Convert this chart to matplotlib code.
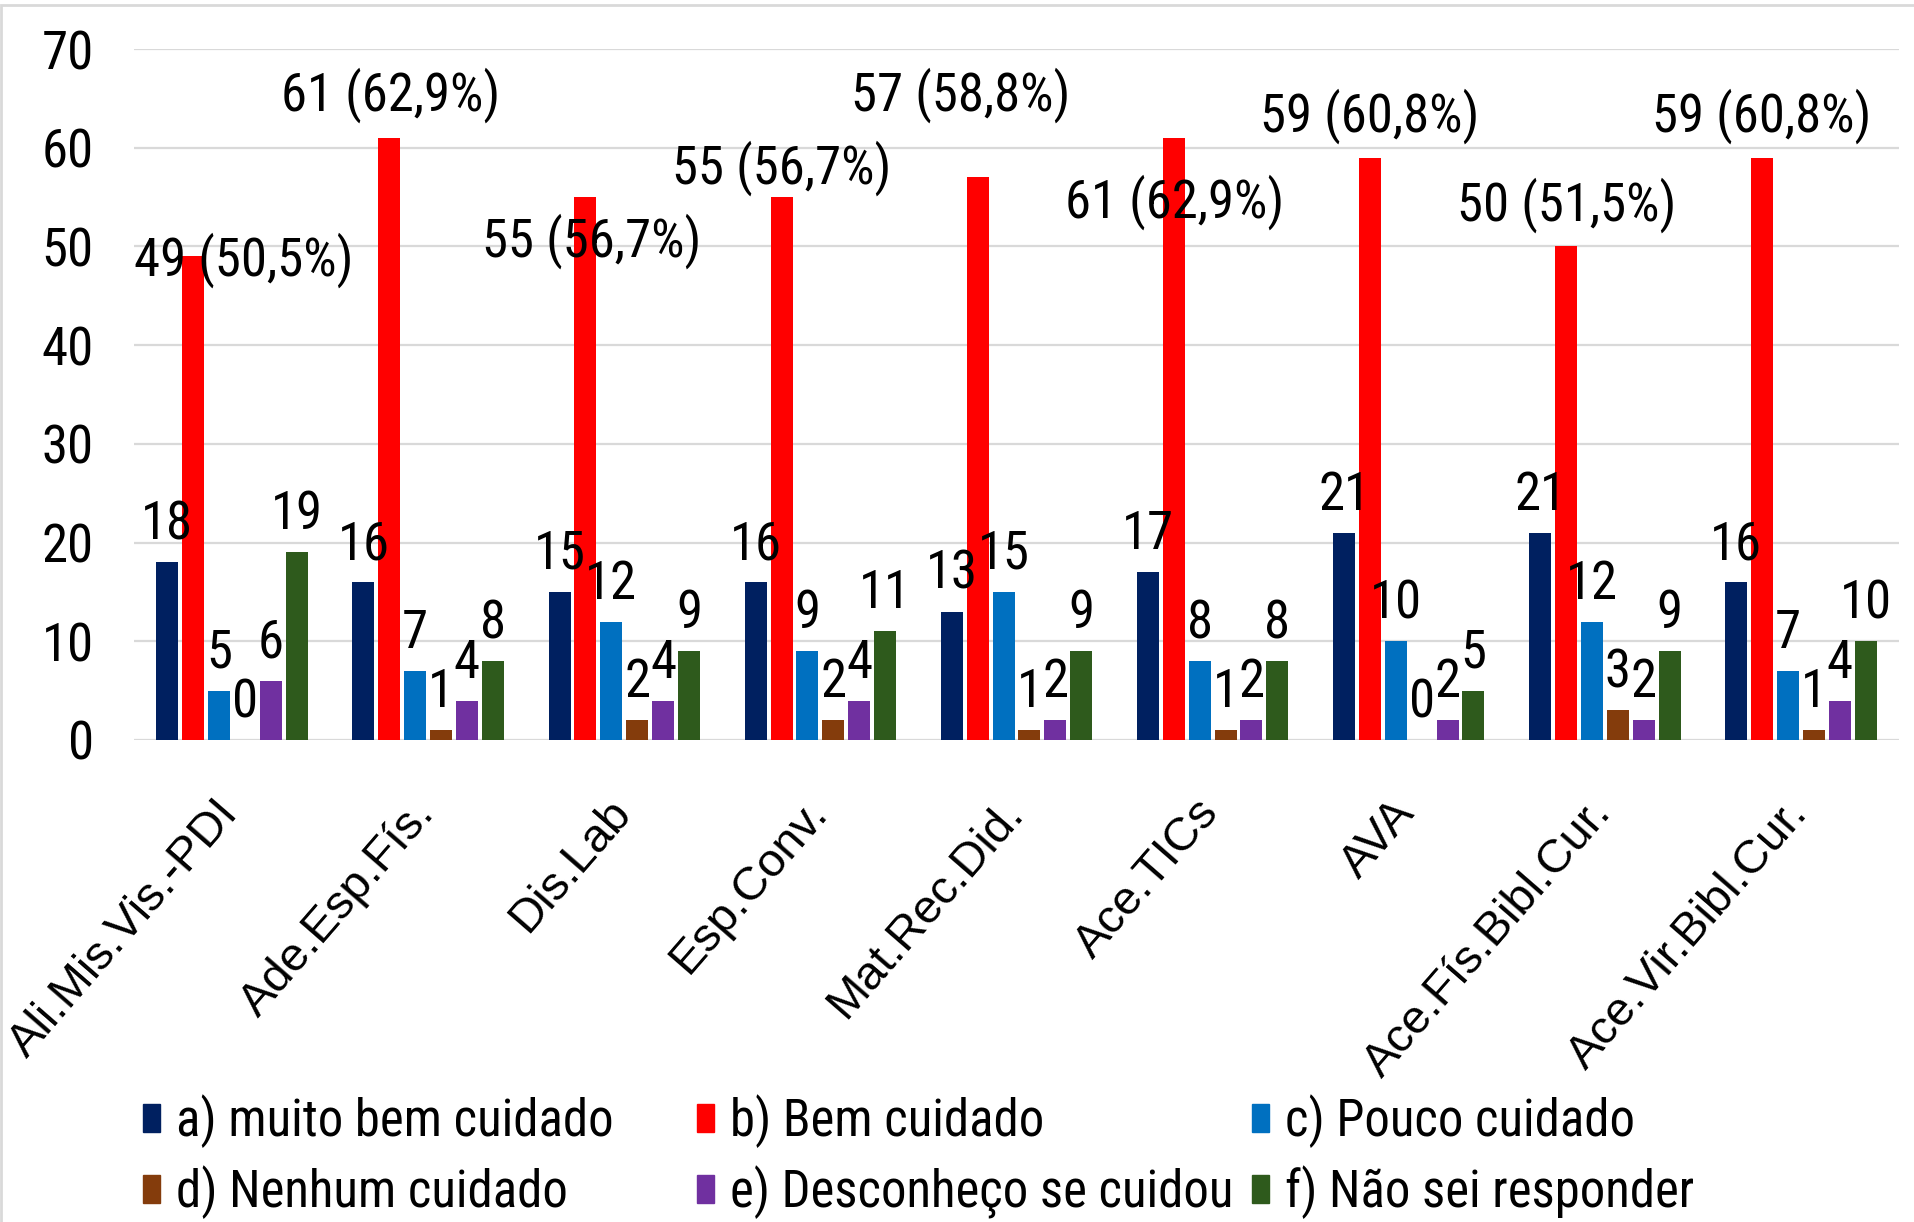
import matplotlib
matplotlib.use("Agg")
import matplotlib.pyplot as plt
import matplotlib.transforms as mtransforms
from matplotlib import font_manager
from matplotlib.patches import Rectangle

# ---------------- data ----------------
categories = ["Ali.Mis.Vis.-PDI", "Ade.Esp.Fís.", "Dis.Lab", "Esp.Conv.", "Mat.Rec.Did.",
              "Ace.TICs", "AVA", "Ace.Fís.Bibl.Cur.", "Ace.Vir.Bibl.Cur."]
series_names = ["a) muito bem cuidado", "b) Bem cuidado", "c) Pouco cuidado",
                "d) Nenhum cuidado", "e) Desconheço se cuidou", "f) Não sei responder"]
a_vals = [18, 16, 15, 16, 13, 17, 21, 21, 16]
b_vals = [49, 61, 55, 55, 57, 61, 59, 50, 59]
c_vals = [5, 7, 12, 9, 15, 8, 10, 12, 7]
d_vals = [0, 1, 2, 2, 1, 1, 0, 3, 1]
e_vals = [6, 4, 4, 4, 2, 2, 2, 2, 4]
f_vals = [19, 8, 9, 11, 9, 8, 5, 9, 10]
b_labels = ["49 (50,5%)", "61 (62,9%)", "55 (56,7%)", "55 (56,7%)", "57 (58,8%)",
            "61 (62,9%)", "59 (60,8%)", "50 (51,5%)", "59 (60,8%)"]
y_ticks = [0, 10, 20, 30, 40, 50, 60, 70]

# manual placement of the b) labels (x offset from category centre, y in data units)
b_label_dx = [0.06, -0.19, -0.165, -0.20, -0.285, -0.195, -0.20, -0.196, -0.20]
b_label_y = [48.6, 65.3, 50.5, 57.9, 65.3, 54.5, 63.2, 54.2, 63.2]

colors = ["#002060", "#FF0000", "#0070C0", "#843C0C", "#7030A0", "#2E5A1C"]

# ---------------- fonts ----------------
available = {f.name for f in font_manager.fontManager.ttflist}
def first_avail(prefs):
    for p in prefs:
        if p in available:
            return p
    return "DejaVu Sans"
narrow = first_avail(["Liberation Sans Narrow", "Arial Narrow", "Roboto Condensed",
                      "PT Sans Narrow", "Archivo Narrow", "Barlow Semi Condensed"])
regular = first_avail(["Liberation Sans", "Arimo", "DejaVu Sans"])
NARROW = [narrow, "DejaVu Sans"]
REG = [regular, "DejaVu Sans"]
FS = 38
FS_LEG = 36.5

# ---------------- figure ----------------
W, H = 1915, 1222
fig = plt.figure(figsize=(W / 100, H / 100), dpi=100)
fig.patch.set_facecolor("white")
fig.add_artist(Rectangle((1.5 / W, -0.01), 1.02, 1 - 5 / H + 0.01, transform=fig.transFigure,
                         fill=False, edgecolor="#D9D9D9", linewidth=2))

ax_left, ax_right = 134 / W, 1899 / W
ax_bottom, ax_top = 1 - 740 / H, 1 - 49 / H
ax = fig.add_axes([ax_left, ax_bottom, ax_right - ax_left, ax_top - ax_bottom])

all_series = [a_vals, b_vals, c_vals, d_vals, e_vals, f_vals]
n = len(all_series)
pitch = 0.132
width = 0.112
xs = list(range(len(categories)))

for i, (vals, col) in enumerate(zip(all_series, colors)):
    offs = (i - (n - 1) / 2) * pitch
    xpos = [x + offs for x in xs]
    ax.bar(xpos, vals, width=width, color=col, zorder=2)
    if i == 1:
        continue
    for xp, v in zip(xpos, vals):
        ax.annotate(str(v), (xp, v), xytext=(0, 27), textcoords="offset points",
                    ha="center", va="center", fontsize=FS, family=NARROW, zorder=5)

for x, lab, dx, y in zip(xs, b_labels, b_label_dx, b_label_y):
    ax.text(x + dx, y, lab, ha="center", va="center", fontsize=FS, family=NARROW, zorder=5)

ax.set_xlim(-0.5, len(categories) - 0.5)
ax.set_ylim(0, 70)
ax.set_yticks(y_ticks)
ax.set_yticklabels([str(t) for t in y_ticks], fontsize=FS, family=NARROW)
ax.tick_params(axis="y", length=0, pad=29)
ax.yaxis.grid(True, color="#D9D9D9", linewidth=1.6, zorder=0)
ax.set_axisbelow(True)
for s in ax.spines.values():
    s.set_visible(False)

ax.set_xticks(xs)
ax.set_xticklabels(categories, rotation=49, ha="right", va="baseline",
                   rotation_mode="anchor", fontsize=34, family=REG)
ax.tick_params(axis="x", length=0, pad=53)
offset = mtransforms.ScaledTranslation(0.08, 0, fig.dpi_scale_trans)
for lbl in ax.get_xticklabels():
    lbl.set_transform(lbl.get_transform() + offset)

# ---------------- legend (three columns) ----------------
handles = [Rectangle((0, 0), 1, 1, color=c) for c in colors]
col_x = [143, 697, 1252]
for k in range(3):
    hs = [handles[k], handles[k + 3]]
    ls = [series_names[k], series_names[k + 3]]
    fig.legend(hs, ls, loc="upper left", bbox_to_anchor=(col_x[k] / W, 1 - 1094 / H),
               frameon=False, borderpad=0, borderaxespad=0, handlelength=0.34,
               handleheight=0.47, handletextpad=0.32, labelspacing=0.34,
               prop={"family": NARROW, "size": FS_LEG})

fig.savefig("out.png", dpi=100, facecolor="white")
